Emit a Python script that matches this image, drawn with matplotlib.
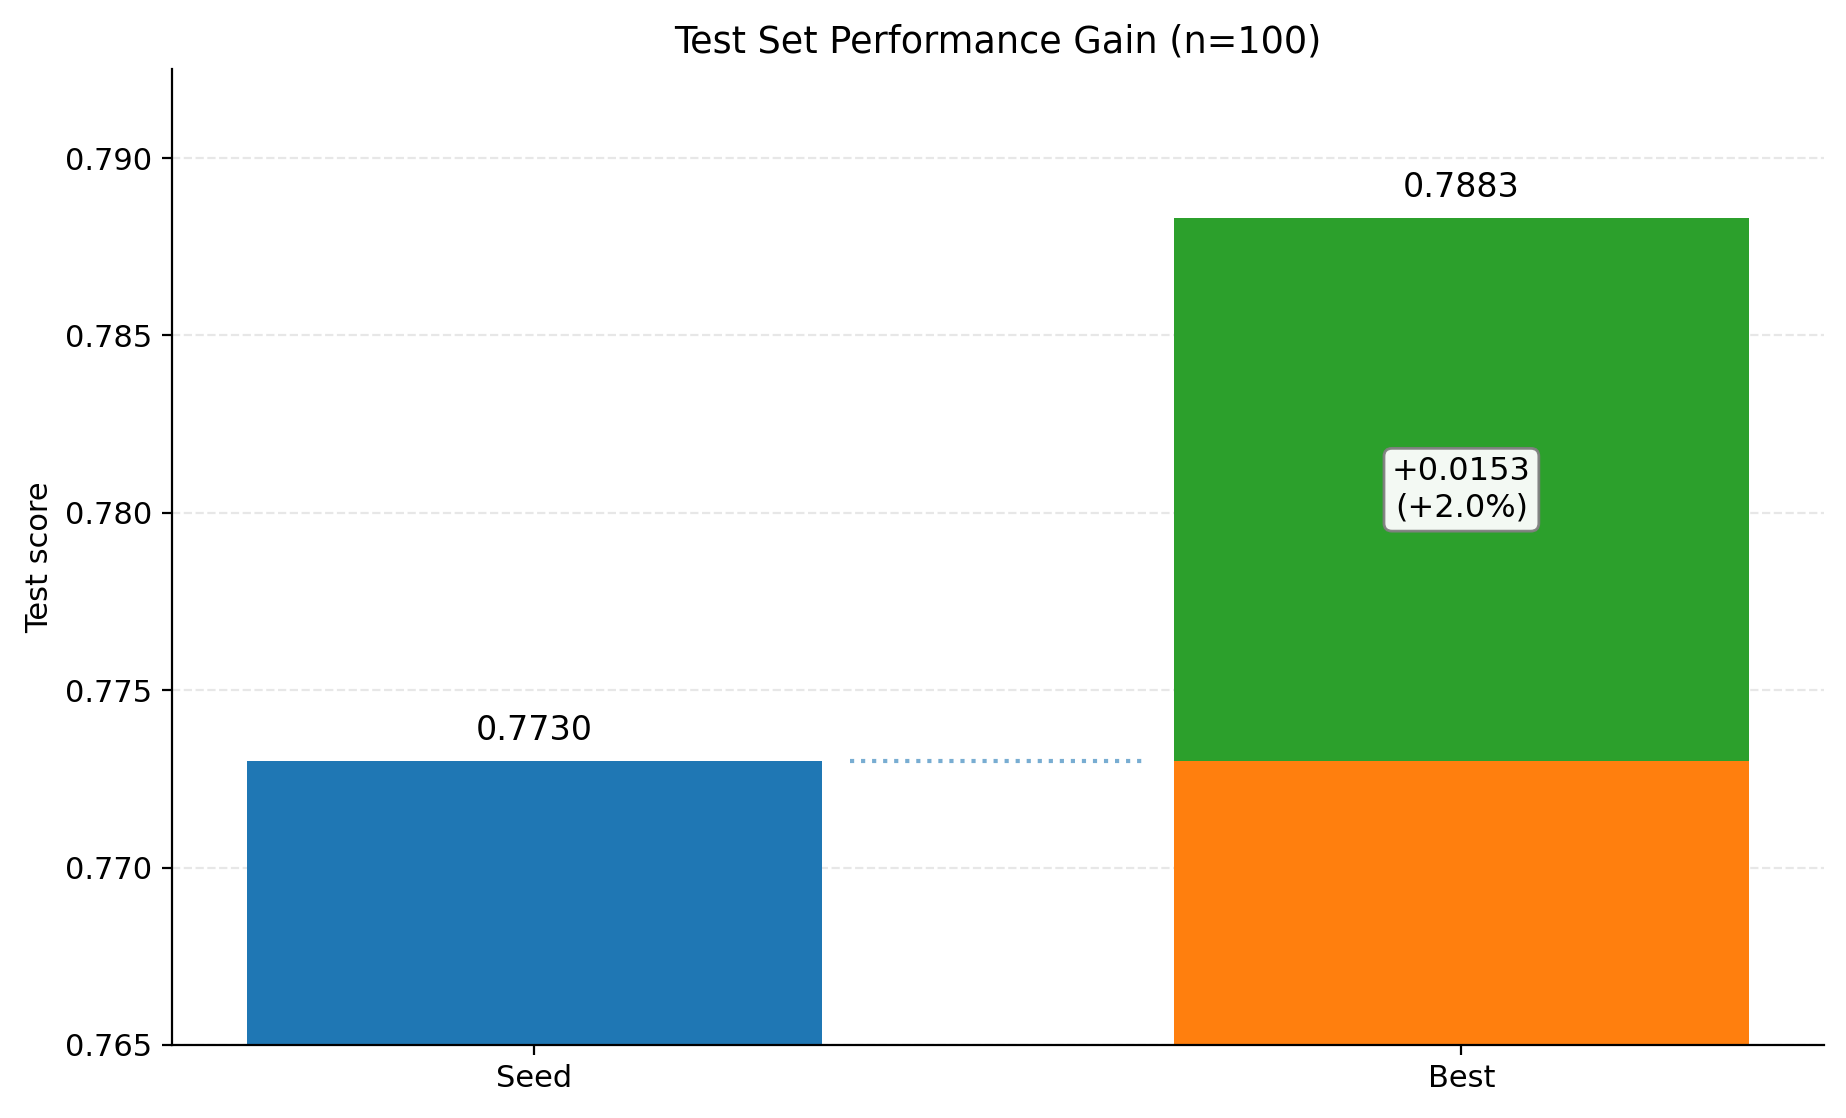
import matplotlib
matplotlib.use("Agg")
import matplotlib.pyplot as plt

plt.rcParams["font.size"] = 11

labels = ["Seed", "Best"]
seed_score = 0.7730
best_score = 0.7883
gain = best_score - seed_score
gain_pct = gain / seed_score * 100

fig, ax = plt.subplots(figsize=(9.23, 5.59), dpi=200)
fig.subplots_adjust(left=0.0932, right=0.988, top=0.938, bottom=0.0653)

w = 0.62
ax.bar(0, seed_score, width=w, color="C0")
# best bar = seed part + gain on top
ax.bar(1, seed_score, width=w, color="C1")
ax.bar(1, gain, bottom=seed_score, width=w, color="C2")

ax.plot([0 + w / 2 + 0.03, 1 - w / 2 - 0.03], [seed_score, seed_score],
        linestyle=":", color="C0", alpha=0.6, linewidth=1.5)

ax.annotate(f"{seed_score:.4f}", (0, seed_score), xytext=(0, 5),
            textcoords="offset points", ha="center", va="bottom", fontsize=12)
ax.annotate(f"{best_score:.4f}", (1, best_score), xytext=(0, 5),
            textcoords="offset points", ha="center", va="bottom", fontsize=12)

ax.text(1, (seed_score + best_score) / 2, f"+{gain:.4f}\n(+{gain_pct:.1f}%)",
        ha="center", va="center", fontsize=11.5,
        bbox=dict(boxstyle="round,pad=0.25", facecolor="white", edgecolor="gray", alpha=0.95))

ax.set_xticks([0, 1])
ax.set_xticklabels(labels)
ax.set_ylim(0.765, 0.7925)
ax.set_ylabel("Test score")
ax.set_title("Test Set Performance Gain (n=100)")
ax.yaxis.grid(True, linestyle="--", alpha=0.3)
ax.set_axisbelow(True)
ax.spines["top"].set_visible(False)
ax.spines["right"].set_visible(False)

plt.savefig("out.png", dpi=200)
